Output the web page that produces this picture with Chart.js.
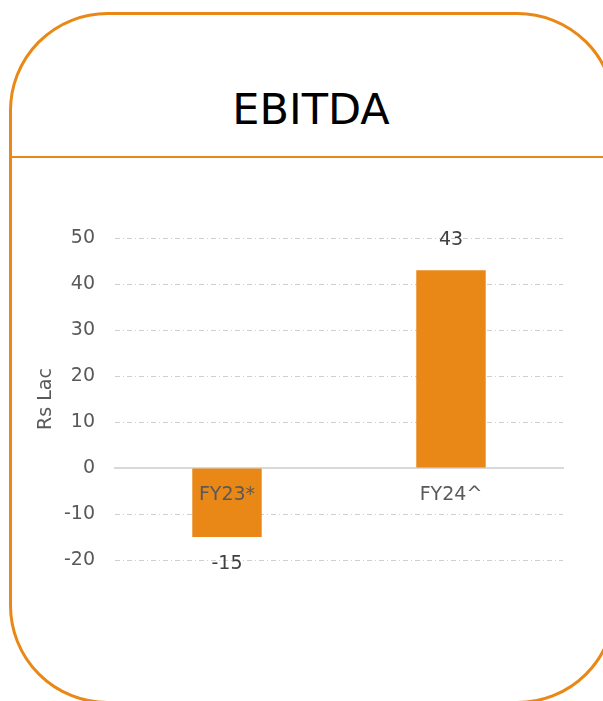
<!DOCTYPE html>
<html>
<head>
<meta charset="utf-8">
<script src="https://cdn.jsdelivr.net/npm/chart.js@4/dist/chart.umd.min.js"></script>
<style>
  html, body { margin: 0; padding: 0; background: #fff; }
  .frame { position: relative; width: 603px; height: 701px; overflow: hidden; }
  .frame svg { position: absolute; left: 0; top: 0; }
  .title { position: absolute; left: 10px; width: 602px; top: 84px; text-align: center;
           font-family: "DejaVu Sans", sans-serif; font-size: 43px; color: #000; line-height: 50px; }
  #chart { position: absolute; left: 0; top: 0; }
</style>
</head>
<body>
<div class="frame">
  <svg width="603" height="701" viewBox="0 0 603 701">
    <rect x="10.5" y="13.5" width="604" height="689" rx="97" ry="97" fill="none" stroke="#E98816" stroke-width="3"/>
    <line x1="11" y1="157" x2="603" y2="157" stroke="#E98816" stroke-width="2"/>
  </svg>
  <div class="title">EBITDA</div>
  <canvas id="chart" width="603" height="701"></canvas>
</div>
<script>
// ==================== DATA ====================
const categories = ['FY23*', 'FY24^'];
const ebitdaValues = [-15, 43];
const axisTitle = 'Rs Lac';
const yMin = -20;
const yMax = 50;
const yStep = 10;

const barColor = '#E98816';
const textGray = '#595959';

// small inline label plugin (no datalabels available offline)
const valueLabels = {
    id: 'valueLabels',
    afterDatasetsDraw(chart) {
        const ctx = chart.ctx;
        const meta = chart.getDatasetMeta(0);
        ctx.save();
        ctx.font = '19px "DejaVu Sans", sans-serif';
        ctx.fillStyle = '#404040';
        ctx.textAlign = 'center';
        ctx.textBaseline = 'alphabetic';
        meta.data.forEach((bar, i) => {
            const v = chart.data.datasets[0].data[i];
            const y = v >= 0 ? bar.y - 25 : bar.y + 32;
            ctx.fillText(String(v), bar.x, y);
        });
        ctx.restore();
    }
};

// ==================== CHART ====================
document.addEventListener('DOMContentLoaded', () => {
    const ctx = document.getElementById('chart').getContext('2d');
    new Chart(ctx, {
        type: 'bar',
        data: {
            labels: categories,
            datasets: [{
                label: 'EBITDA',
                data: ebitdaValues,
                backgroundColor: barColor,
                borderWidth: 0,
                categoryPercentage: 1,
                barPercentage: 0.31
            }]
        },
        options: {
            responsive: false,
            animation: false,
            layout: { padding: { top: 238, bottom: 141, left: 25, right: 40 } },
            plugins: { legend: { display: false }, tooltip: { enabled: false } },
            scales: {
                x: {
                    position: { y: 0 },
                    grid: { display: false },
                    border: { color: '#d9d9d9', width: 2 },
                    ticks: { z: 1, color: textGray, font: { family: 'DejaVu Sans', size: 19 }, padding: 8 }
                },
                y: {
                    min: yMin,
                    max: yMax,
                    afterFit(scale) { scale.width = 90; },
                    ticks: { stepSize: yStep, color: textGray, font: { family: 'DejaVu Sans', size: 19 }, padding: 20 },
                    grid: {
                        drawTicks: false,
                        lineWidth: 1,
                        color: c => (c.tick && c.tick.value === 0) ? 'rgba(0,0,0,0)' : '#cfcfcf'
                    },
                    border: { display: false, dash: [5, 3, 1, 3] },
                    title: {
                        display: true,
                        text: axisTitle,
                        color: textGray,
                        font: { family: 'DejaVu Sans', size: 19 },
                        padding: { top: 10, bottom: 0 }
                    }
                }
            }
        },
        plugins: [valueLabels]
    });
});
</script>
</body>
</html>
